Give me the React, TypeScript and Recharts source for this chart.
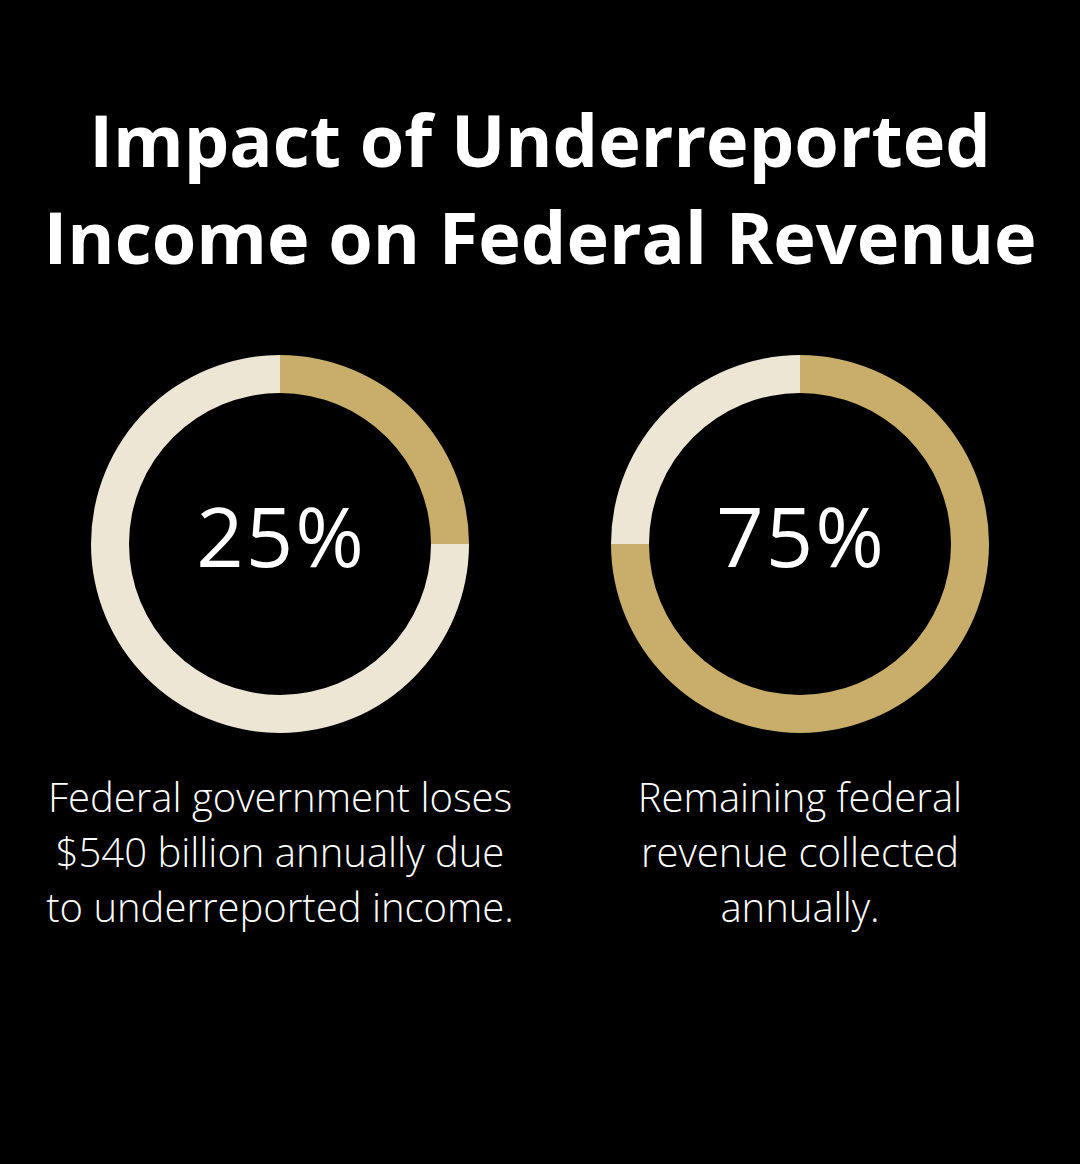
import { PieChart, Pie, Cell } from 'recharts';

const GOLD = '#c8ae6a';
const CREAM = '#eee6d5';

const titleLines = ['Impact of Underreported', 'Income on Federal Revenue'];

const lostData = [
  { name: 'Underreported', value: 25 },
  { name: 'Rest', value: 75 },
];
const lostColors = [GOLD, CREAM];

const collectedData = [
  { name: 'Collected', value: 75 },
  { name: 'Rest', value: 25 },
];
const collectedColors = [GOLD, CREAM];

const captions = [
  ['Federal government loses', '$540 billion annually due', 'to underreported income.'],
  ['Remaining federal', 'revenue collected', 'annually.'],
];
const centers = ['25%', '75%'];
const centerX = [280, 800];

const FONT = '"Open Sans", "DejaVu Sans", sans-serif';

export default function App() {
  return (
    <div
      style={{
        position: 'absolute',
        top: 0,
        left: 0,
        width: 1080,
        height: 1164,
        background: '#000',
        fontFamily: FONT,
        color: '#fff',
        overflow: 'hidden',
      }}
    >
      <div
        style={{
          position: 'absolute',
          top: 91,
          left: 0,
          width: 1080,
          textAlign: 'center',
          fontSize: 72,
          fontWeight: 700,
          lineHeight: '97px',
        }}
      >
        {titleLines.map((l) => (
          <div key={l}>{l}</div>
        ))}
      </div>

      <div style={{ position: 'absolute', top: 0, left: 0 }}>
        <PieChart width={1080} height={1164} margin={{ top: 0, right: 0, bottom: 0, left: 0 }}>
          <Pie
            data={lostData}
            dataKey="value"
            cx={280}
            cy={544}
            innerRadius={151}
            outerRadius={189}
            startAngle={90}
            endAngle={-270}
            stroke="none"
            isAnimationActive={false}
          >
            {lostData.map((d, i) => (
              <Cell key={d.name} fill={lostColors[i]} />
            ))}
          </Pie>
          <Pie
            data={collectedData}
            dataKey="value"
            cx={800}
            cy={544}
            innerRadius={151}
            outerRadius={189}
            startAngle={90}
            endAngle={-270}
            stroke="none"
            isAnimationActive={false}
          >
            {collectedData.map((d, i) => (
              <Cell key={d.name} fill={collectedColors[i]} />
            ))}
          </Pie>
        </PieChart>
      </div>

      {centers.map((c, i) => (
        <div
          key={c}
          style={{
            position: 'absolute',
            top: 480,
            left: centerX[i] - 200 + 1,
            width: 400,
            textAlign: 'center',
            fontSize: 83,
            fontWeight: 500,
            letterSpacing: 2,
            lineHeight: '110px',
          }}
        >
          {c}
        </div>
      ))}

      {captions.map((lines, i) => (
        <div
          key={i}
          style={{
            position: 'absolute',
            top: 769,
            left: centerX[i] - 260,
            width: 520,
            textAlign: 'center',
            fontSize: 40,
            fontWeight: 300,
            lineHeight: '55px',
          }}
        >
          {lines.map((l) => (
            <div key={l}>{l}</div>
          ))}
        </div>
      ))}
    </div>
  );
}
